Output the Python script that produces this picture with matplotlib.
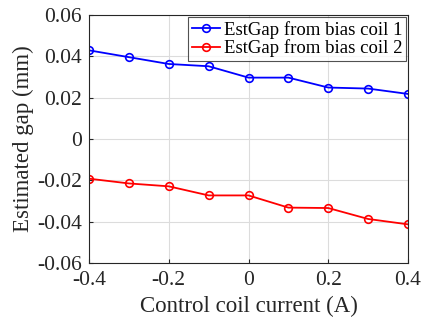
import matplotlib
matplotlib.use("Agg")
import matplotlib.pyplot as plt

current = [-0.4, -0.3, -0.2, -0.1, 0.0, 0.1, 0.2, 0.3, 0.4]
gap_coil1 = [0.0429, 0.0396, 0.0363, 0.0352, 0.0297, 0.0297, 0.0249, 0.0244, 0.0218]
gap_coil2 = [-0.0192, -0.0215, -0.0229, -0.0273, -0.0273, -0.0332, -0.0334, -0.0387, -0.0413]
labels = ["EstGap from bias coil 1", "EstGap from bias coil 2"]
xticks = [-0.4, -0.2, 0, 0.2, 0.4]
yticks = [-0.06, -0.04, -0.02, 0, 0.02, 0.04, 0.06]

plt.rcParams['font.family'] = ['Liberation Serif', 'DejaVu Serif']
fig = plt.figure(figsize=(4.25, 3.24), dpi=100)
ax = fig.add_axes([89/425, 1-263/324, (408-89)/425, (263-15)/324])

ax.plot(current, gap_coil1, '-o', color='#0000ff', lw=1.3, ms=5.5,
        mfc='none', mew=1.2, label=labels[0])
ax.plot(current, gap_coil2, '-o', color='#ff0000', lw=1.3, ms=5.5,
        mfc='none', mew=1.2, label=labels[1])

ax.set_xlim(-0.4, 0.4)
ax.set_ylim(-0.06, 0.06)
ax.set_xticks(xticks)
ax.set_xticklabels(['-0.4', '-0.2', '0', '0.2', '0.4'])
ax.set_yticks(yticks)
ax.set_yticklabels(['-0.06', '-0.04', '-0.02', '0', '0.02', '0.04', '0.06'])
ax.grid(True, color='#dcdcdc', lw=0.8)
ax.set_axisbelow(True)
for s in ax.spines.values():
    s.set_color('#262626')
    s.set_linewidth(0.8)
ax.tick_params(direction='in', length=3, colors='#262626', labelsize=15.5)
ax.tick_params(axis='x', pad=6)
ax.tick_params(axis='y', pad=5)
ax.set_xlabel('Control coil current (A)', fontsize=16.5, color='#262626', labelpad=4)
ax.set_ylabel('Estimated gap (mm)', fontsize=16.5, color='#262626', labelpad=2)

leg = ax.legend(loc='upper right', fontsize=13.5, frameon=True, fancybox=False,
                edgecolor='#262626', borderpad=0.2, handlelength=1.5,
                handletextpad=0.2, labelspacing=0.05, borderaxespad=0.1)
leg.get_frame().set_linewidth(0.8)

fig.savefig('out.png', dpi=100)
